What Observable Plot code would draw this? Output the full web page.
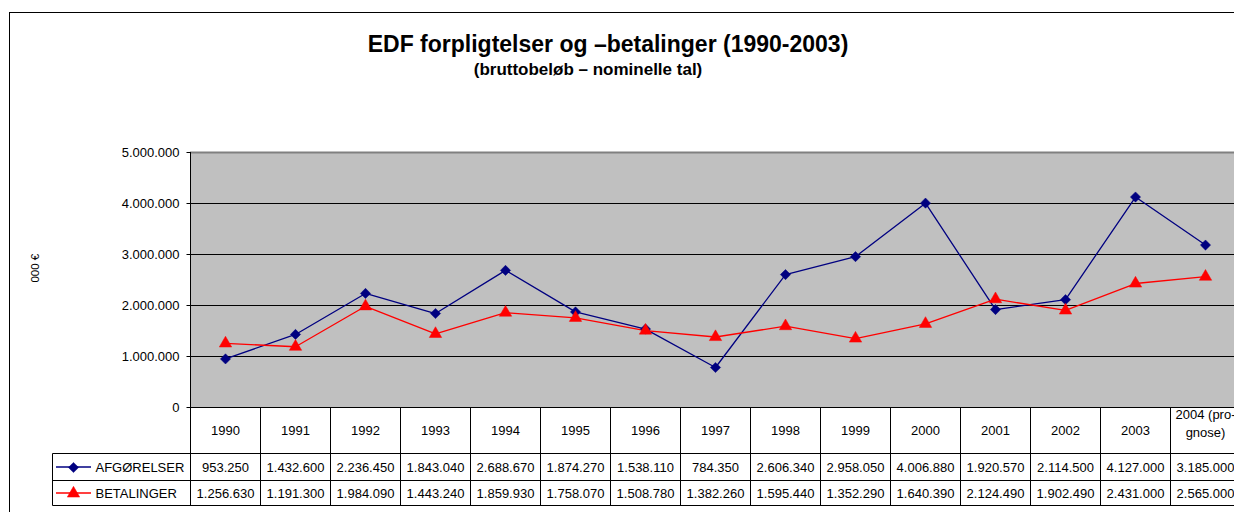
<!DOCTYPE html>
<html>
<head>
<meta charset="utf-8">
<script src="https://cdn.jsdelivr.net/npm/d3@7"></script>
<script src="https://cdn.jsdelivr.net/npm/@observablehq/plot@0.6"></script>
<style>
  html, body { margin: 0; padding: 0; background: #fff; overflow: hidden; }
  body { width: 1234px; height: 512px; position: relative; font-family: "Liberation Sans", Arial, sans-serif; }
  #box { position: absolute; left: 9px; top: 12px; width: 1300px; height: 600px; border: 1px solid #000; box-sizing: border-box; }
  #title { position: absolute; left: 0; width: 1216px; top: 31px; text-align: center; font-weight: bold; font-size: 23px; color: #000; }
  #subtitle { position: absolute; left: 0; width: 1176px; top: 60px; text-align: center; font-weight: bold; font-size: 17px; color: #000; }
  #chart { position: absolute; left: 0; top: 0; width: 1250px; }
  #chart svg { max-width: none !important; }
</style>
</head>
<body>
<div id="box"></div>
<div id="chart"></div>
<div id="title">EDF forpligtelser og –betalinger (1990-2003)</div>
<div id="subtitle">(bruttobeløb – nominelle tal)</div>
<script>
const categories = ["1990","1991","1992","1993","1994","1995","1996","1997","1998","1999","2000","2001","2002","2003","2004 (pro-\ngnose)"];
const afgoerelser = [953250,1432600,2236450,1843040,2688670,1874270,1538110,784350,2606340,2958050,4006880,1920570,2114500,4127000,3185000];
const betalinger = [1256630,1191300,1984090,1443240,1859930,1758070,1508780,1382260,1595440,1352290,1640390,2124490,1902490,2431000,2565000];
const seriesNames = ["AFGØRELSER", "BETALINGER"];
const yTicks = [0, 1000000, 2000000, 3000000, 4000000, 5000000];
const yLabel = "000 €";

const loc = d3.formatLocale({decimal: ",", thousands: ".", grouping: [3], currency: ["", ""]});
const fmt = loc.format(",d");

const afgData = categories.map((c, i) => ({cat: c, value: afgoerelser[i]}));
const betData = categories.map((c, i) => ({cat: c, value: betalinger[i]}));

const FONT = "Liberation Sans, Arial, sans-serif";

function tableGrid(index, scales, values, dims) {
  const x = scales.x, y = scales.y;
  const step = x(categories[1]) - x(categories[0]);
  const y0 = Math.round(y(0)) + 0.5;
  const left = dims.marginLeft + 0.5;
  const right = dims.width;
  const rows = [y0 + 46, y0 + 73, y0 + 98];
  const tableLeft = 52.5;
  const g = d3.create("svg:g").attr("fill", "none").attr("stroke", "#000").attr("stroke-width", 1);
  g.append("line").attr("x1", left).attr("x2", left).attr("y1", Math.round(y(5000000))).attr("y2", rows[2]);
  g.append("line").attr("x1", left).attr("x2", right).attr("y1", y0).attr("y2", y0);
  rows.forEach(r => g.append("line").attr("x1", tableLeft).attr("x2", right).attr("y1", r).attr("y2", r));
  g.append("line").attr("x1", tableLeft).attr("x2", tableLeft).attr("y1", rows[0]).attr("y2", rows[2]);
  categories.forEach(c => {
    const xe = Math.round(x(c) + step / 2) + 0.5;
    g.append("line").attr("x1", xe).attr("x2", xe).attr("y1", y0).attr("y2", rows[2]);
  });
  yTicks.forEach(t => {
    const yy = Math.round(y(t)) + 0.5;
    g.append("line").attr("x1", left - 4).attr("x2", left).attr("y1", yy).attr("y2", yy);
  });
  const legendY = [(rows[0] + rows[1]) / 2, (rows[1] + rows[2]) / 2];
  g.append("line").attr("x1", 56).attr("x2", 91).attr("y1", legendY[0]).attr("y2", legendY[0]).attr("stroke", "#000080").attr("stroke-width", 1.3);
  g.append("line").attr("x1", 56).attr("x2", 91).attr("y1", legendY[1]).attr("y2", legendY[1]).attr("stroke", "#FF0000").attr("stroke-width", 1.3);
  return g.node();
}

const chart = Plot.plot({
  width: 1250,
  height: 512,
  marginLeft: 190,
  marginRight: 10,
  marginTop: 152,
  marginBottom: 105,
  style: {fontFamily: FONT, fontSize: "13px", color: "#000", background: "transparent", overflow: "visible", maxWidth: "none"},
  x: {type: "point", domain: categories, padding: 0.5, axis: null},
  y: {domain: [0, 5000000], axis: null},
  marks: [
    Plot.frame({fill: "#C0C0C0", stroke: "none"}),
    Plot.ruleY(yTicks.slice(1, 5), {stroke: "#000", strokeWidth: 1}),
    Plot.ruleY([yTicks[5]], {stroke: "#808080", strokeWidth: 2}),
    Plot.text(yTicks, {frameAnchor: "left", y: d => d, text: d => fmt(d), textAnchor: "end", dx: -11, fontSize: 13, fill: "#000"}),
    Plot.text([yLabel], {frameAnchor: "left", y: 2450000, dx: -155, rotate: -90, fontSize: 11.5, fill: "#000"}),
    Plot.line(afgData, {x: "cat", y: "value", stroke: "#000080", strokeWidth: 1.3}),
    Plot.line(betData, {x: "cat", y: "value", stroke: "#FF0000", strokeWidth: 1.3}),
    Plot.dot(afgData, {x: "cat", y: "value", symbol: "diamond2", r: 4.6, fill: "#000080", stroke: "#000080", strokeWidth: 0.5}),
    Plot.dot(betData, {x: "cat", y: "value", symbol: "triangle", r: 4.6, fill: "#FF0000", stroke: "#FF0000", strokeWidth: 0.5}),
    tableGrid,
    Plot.text(categories.slice(0, 14), {x: d => d, y: () => 0, text: d => d, dy: 23, fontSize: 13, fill: "#000"}),
    Plot.text(categories.slice(14), {x: d => d, y: () => 0, text: d => d, dy: 15, fontSize: 13, fill: "#000", lineHeight: 1.35}),
    Plot.text(afgData, {x: "cat", y: () => 0, text: d => fmt(d.value), dy: 60, fontSize: 13, fill: "#000"}),
    Plot.text(betData, {x: "cat", y: () => 0, text: d => fmt(d.value), dy: 86, fontSize: 13, fill: "#000"}),
    Plot.dot([seriesNames[0]], {frameAnchor: "left", y: () => 0, dx: -117, dy: 60, symbol: "diamond2", r: 4.6, fill: "#000080", stroke: "#000080", strokeWidth: 0.5}),
    Plot.dot([seriesNames[1]], {frameAnchor: "left", y: () => 0, dx: -117, dy: 86, symbol: "triangle", r: 4.6, fill: "#FF0000", stroke: "#FF0000", strokeWidth: 0.5}),
    Plot.text([seriesNames[0]], {frameAnchor: "left", y: () => 0, text: d => d, textAnchor: "start", dx: -95, dy: 60, fontSize: 13, fill: "#000"}),
    Plot.text([seriesNames[1]], {frameAnchor: "left", y: () => 0, text: d => d, textAnchor: "start", dx: -95, dy: 86, fontSize: 13, fill: "#000"})
  ]
});
document.getElementById("chart").appendChild(chart);
</script>
</body>
</html>
